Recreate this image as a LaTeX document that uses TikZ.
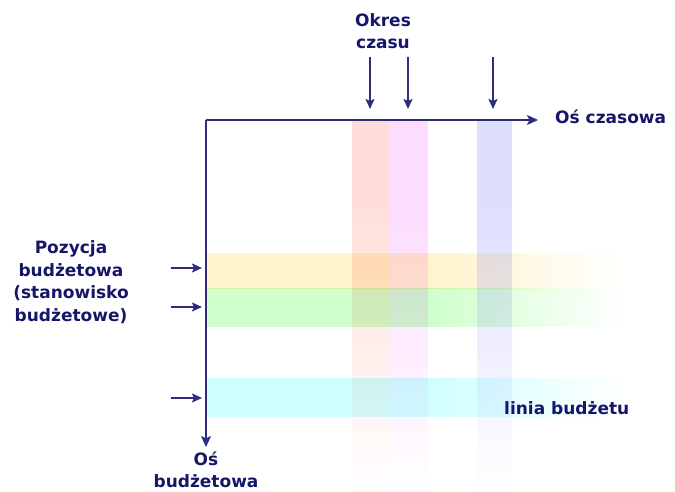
\documentclass[tikz,border=0pt]{standalone}
\usepackage{fontspec}
\setmainfont{DejaVu Sans}
\usetikzlibrary{arrows.meta}
\definecolor{axisblue}{RGB}{45,45,125}
\definecolor{textblue}{RGB}{22,22,105}
\definecolor{bandred}{RGB}{255,222,218}
\definecolor{bandmagenta}{RGB}{252,220,255}
\definecolor{bandblue}{RGB}{222,222,255}
\definecolor{bandyellow}{RGB}{255,244,204}
\definecolor{bandgreen}{RGB}{208,255,205}
\definecolor{bandcyan}{RGB}{208,255,255}
\colorlet{bandcol}{bandred}
% solid on the left part, fading to white on the right
\pgfdeclarehorizontalshading[bandcol]{rowfade}{100bp}{color(0bp)=(bandcol); color(25bp)=(bandcol);
  color(52bp)=(bandcol); color(75bp)=(white); color(100bp)=(white)}
% solid at the top, fading to white downwards
\pgfdeclareverticalshading[bandcol]{colfade}{100bp}{color(0bp)=(white); color(25bp)=(white);
  color(64bp)=(bandcol); color(75bp)=(bandcol); color(100bp)=(bandcol)}

\begin{document}
\begin{tikzpicture}[x=1pt, y=-1pt,
    every node/.style={font=\bfseries\fontsize{17}{22.5}\selectfont, text=textblue, inner sep=0pt},
    axisline/.style={draw=axisblue, line width=1.7pt, -{Stealth[length=11pt,width=10pt,inset=2.5pt]}},
    pointer/.style={draw=axisblue, line width=1.6pt, -{Stealth[length=10pt,width=9pt,inset=2pt]}}]
    \useasboundingbox (0,0) rectangle (675,492);
    \coordinate (Origin)   at (206,120);
    \coordinate (TimeMax)  at (538,120);
    \coordinate (BudgMax)  at (206,447);

    \begin{scope}[blend mode=multiply]
    \foreach \c/\t/\b in {bandyellow/253/288, bandgreen/288/326, bandcyan/378/416}{% budget rows
      \colorlet{bandcol}{\c}
      \shade[shading=rowfade] (207,\t) rectangle (625,\b);
    }
    \foreach \c/\l/\r in {bandred/352/389, bandmagenta/389/428, bandblue/477/512}{% time periods
      \colorlet{bandcol}{\c}
      \shade[shading=colfade] (\l,121) rectangle (\r,495);
    }
    \end{scope}

    \draw[axisline] (Origin) -- (TimeMax);% time axis
    \draw[axisline] (Origin) -- (BudgMax);% budget axis

    \node (Period) [align=center] at (383,31) {Okres\\czasu};
    \node (TimeAxis) [anchor=west] at (555,117) {Oś czasowa};
    \node (Item) [align=center] at (71,282) {Pozycja\\budżetowa\\(stanowisko\\budżetowe)};
    \node (Line) [anchor=west] at (504,408) {linia budżetu};
    \node (BudgAxis) [align=center] at (206,470) {Oś\\budżetowa};

    \foreach \x [count=\i] in {370,408,493}{% arrows to the periods
      \coordinate (PerTop\i) at (\x,57);
      \coordinate (PerEnd\i) at (\x,109);
      \draw[pointer] (PerTop\i) -- (PerEnd\i);
    }
    \foreach \y [count=\i] in {268,307,398}{% arrows to the items
      \coordinate (ItemTail\i) at (171,\y);
      \coordinate (ItemEnd\i) at (202,\y);
      \draw[pointer] (ItemTail\i) -- (ItemEnd\i);
    }
\end{tikzpicture}
\end{document}
